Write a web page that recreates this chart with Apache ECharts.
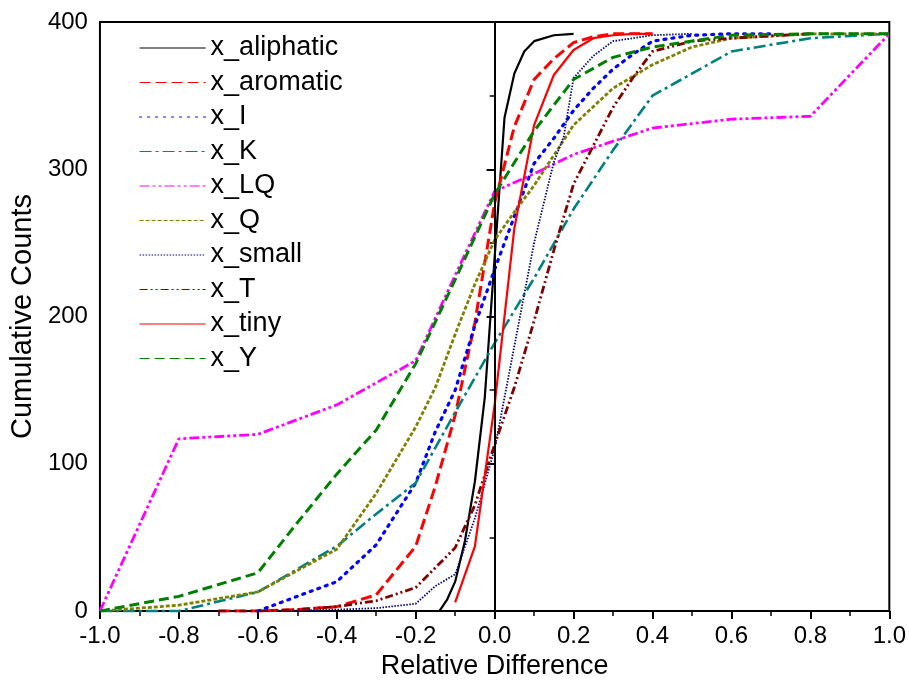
<!DOCTYPE html>
<html>
<head>
<meta charset="utf-8">
<script src="https://cdn.jsdelivr.net/npm/echarts@6/dist/echarts.min.js"></script>
<style>
html,body{margin:0;padding:0;background:#fff;}
#chart{width:909px;height:685px;}
</style>
</head>
<body>
<div id="chart"></div>
<script>
// ---- data ----
const seriesNames = ['x_aliphatic','x_aromatic','x_I','x_K','x_LQ','x_Q','x_small','x_T','x_tiny','x_Y'];
const xTicks = [-1.0,-0.8,-0.6,-0.4,-0.2,0.0,0.2,0.4,0.6,0.8,1.0];
const yTicks = [0,100,200,300,400];

const aliphaticX = [-0.14,-0.12,-0.1,-0.075,-0.05,-0.025,0,0.025,0.05,0.075,0.1,0.15,0.2];
const aliphaticY = [0,8,20,48,88,145,240,335,365,380,387,391,392];

const aromaticX = [-0.7,-0.6,-0.5,-0.4,-0.3,-0.2,-0.15,-0.1,-0.05,0,0.05,0.1,0.15,0.2,0.25,0.3,0.4];
const aromaticY = [0,0,1,3,11,44,85,133,196,277,329,361,375,386,390,392,392];

const iX = [-0.6,-0.5,-0.4,-0.3,-0.2,-0.15,-0.1,-0.05,0,0.05,0.1,0.15,0.2,0.25,0.3,0.35,0.4,0.5,0.6,0.7];
const iY = [0,10,20,45,87,122,150,194,232,268,304,321,340,355,368,378,387,391,392,392];

const kX = [-1.0,-0.8,-0.6,-0.4,-0.3,-0.2,-0.1,0,0.1,0.2,0.3,0.4,0.6,0.8,1.0];
const kY = [0,0,13,44,66,87,135,182,226,273,313,350,380,389,392];

const lqX = [-1.0,-0.8,-0.6,-0.4,-0.2,-0.1,0,0.1,0.2,0.4,0.6,0.8,1.0];
const lqY = [0,117,120,140,170,228,285,297,310,328,334,336,392];

const qX = [-1.0,-0.8,-0.6,-0.4,-0.3,-0.2,-0.15,-0.1,-0.05,0,0.05,0.1,0.2,0.3,0.4,0.5,0.6,0.8,1.0];
const qY = [0,4,13,42,80,125,152,188,222,252,271,289,330,355,371,383,389,392,392];

const smallX = [-0.55,-0.4,-0.3,-0.2,-0.15,-0.1,-0.05,0,0.05,0.1,0.15,0.175,0.2,0.25,0.3,0.4,0.5];
const smallY = [0,1,2,5,17,25,63,110,180,250,305,322,362,377,387,391,392];

const tX = [-0.7,-0.6,-0.5,-0.4,-0.3,-0.2,-0.1,-0.05,0,0.05,0.1,0.15,0.2,0.25,0.3,0.35,0.4,0.5,0.6,0.8];
const tY = [0,0,1,3,7,16,43,72,113,152,197,245,290,316,342,362,380,387,389,392];

const tinyX = [-0.1,-0.05,0,0.05,0.1,0.15,0.2,0.25,0.3,0.35,0.4];
const tinyY = [6,44,140,260,330,364,381,389,391,392,392];

const yX = [-1.0,-0.8,-0.6,-0.5,-0.4,-0.3,-0.2,-0.1,0,0.1,0.2,0.3,0.4,0.6,0.8,1.0];
const yY = [0,10,26,60,93,123,168,225,283,326,361,376,383,391,392,392];

// ---- styles ----
const seriesXs = [aliphaticX,aromaticX,iX,kX,lqX,qX,smallX,tX,tinyX,yX];
const seriesYs = [aliphaticY,aromaticY,iY,kY,lqY,qY,smallY,tY,tinyY,yY];
const colors = ['#000000','#ff0000','#0000ff','#008080','#ff00ff','#808000','#000080','#800000','#ff0000','#008000'];
const dashes = ['solid',[11,5],[2,6],[12,4,3,4],[10,3,3,3,3,3],[4,2],[1.5,1.5],[8,3,2,3,2,3],'solid',[10,5]];
const widths = [2.2,3,3.2,2.6,2.8,2.8,1.8,2.8,2.2,3];
const caps = ['butt','butt','round','butt','butt','butt','butt','butt','butt','butt'];

const FONT = 'Liberation Sans, Arial, sans-serif';

function pairs(xs, ys){ return xs.map((x,i)=>[x, ys[i]]); }

const series = seriesNames.map((name, i) => ({
  name: name,
  type: 'line',
  data: pairs(seriesXs[i], seriesYs[i]),
  symbol: 'none',
  showSymbol: false,
  smooth: false,
  animation: false,
  lineStyle: { color: colors[i], width: widths[i], type: dashes[i], cap: caps[i] },
  itemStyle: { color: colors[i] },
  z: 2
}));

// vertical reference line at x = 0
series[0].markLine = {
  silent: true,
  symbol: 'none',
  animation: false,
  label: { show: false },
  lineStyle: { color: '#000', type: 'solid', width: 1.6 },
  data: [{ xAxis: 0 }]
};

const chart = echarts.init(document.getElementById('chart'), null, { renderer: 'canvas' });
chart.setOption({
  animation: false,
  backgroundColor: '#fff',
  textStyle: { fontFamily: FONT },
  grid: { left: 98, right: 18, top: 22, bottom: 73, show: true, borderColor: '#000', borderWidth: 2, backgroundColor: 'transparent' },
  legend: {
    orient: 'vertical',
    left: 139,
    top: 33,
    padding: 0,
    itemWidth: 66,
    itemHeight: 14,
    itemGap: 4.5,
    textStyle: { fontSize: 27, lineHeight: 30, color: '#000', fontFamily: FONT },
    itemStyle: { opacity: 0 },
    lineStyle: { width: 1.2 },
    data: seriesNames
  },
  xAxis: {
    type: 'value',
    min: xTicks[0],
    max: xTicks[xTicks.length-1],
    interval: 0.2,
    name: 'Relative Difference',
    nameLocation: 'middle',
    nameGap: 39,
    nameTextStyle: { fontSize: 27, color: '#000', fontFamily: FONT },
    axisLine: { show: true, onZero: false, lineStyle: { color: '#000', width: 2 } },
    axisTick: { show: true, length: 8, lineStyle: { color: '#000', width: 2 } },
    minorTick: { show: true, splitNumber: 2, length: 5, lineStyle: { color: '#000', width: 1.5 } },
    axisLabel: { fontSize: 24, color: '#000', margin: 13, fontFamily: FONT,
      formatter: v => (Math.abs(v) < 1e-9 ? 0 : v).toFixed(1) },
    splitLine: { show: false }
  },
  yAxis: {
    type: 'value',
    min: yTicks[0],
    max: yTicks[yTicks.length-1],
    interval: 100,
    name: 'Cumulative Counts',
    nameLocation: 'middle',
    nameGap: 50,
    nameTextStyle: { fontSize: 29, color: '#000', fontFamily: FONT },
    axisLine: { show: true, lineStyle: { color: '#000', width: 2 } },
    axisTick: { show: true, length: 8, lineStyle: { color: '#000', width: 2 } },
    minorTick: { show: true, splitNumber: 2, length: 5, lineStyle: { color: '#000', width: 1.5 } },
    axisLabel: { fontSize: 24, color: '#000', margin: 12, fontFamily: FONT },
    splitLine: { show: false }
  },
  series: series
});
</script>
</body>
</html>
